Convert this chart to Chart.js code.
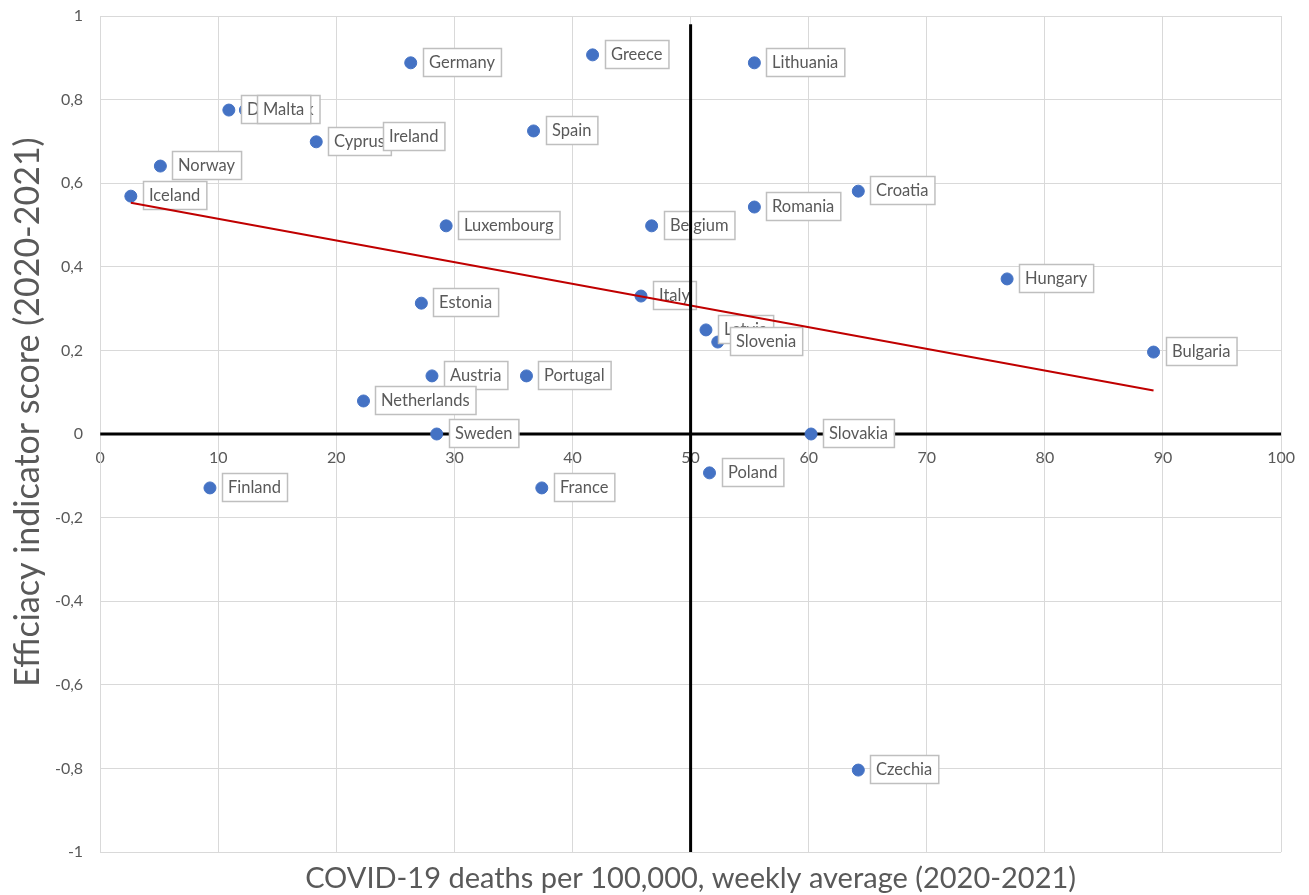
<!DOCTYPE html>
<html><head><meta charset="utf-8">
<script src="https://cdn.jsdelivr.net/npm/chart.js@4.4.0/dist/chart.umd.min.js"></script>
<style>html,body{margin:0;padding:0;background:#fff}#wrap{width:1309px;height:895px}</style>
</head><body><div id="wrap"><canvas id="c"></canvas></div>
<script>
const countries = ["Iceland","Norway","Denmark","Malta","Cyprus","Ireland","Germany","Greece","Lithuania","Spain","Croatia","Romania","Luxembourg","Belgium","Hungary","Italy","Estonia","Latvia","Slovenia","Bulgaria","Austria","Portugal","Netherlands","Sweden","Slovakia","Poland","Finland","France","Czechia"];
const deaths =   [2.6, 5.1, 10.9, 12.3, 18.3, 22.9, 26.3, 41.7, 55.4, 36.7, 64.2, 55.4, 29.3, 46.7, 76.8, 45.8, 27.2, 51.3, 52.3, 89.2, 28.1, 36.1, 22.3, 28.5, 60.2, 51.6, 9.3, 37.4, 64.2];
const efficacy = [0.569, 0.641, 0.775, 0.775, 0.699, 0.71, 0.888, 0.907, 0.888, 0.725, 0.581, 0.543, 0.498, 0.498, 0.371, 0.330, 0.313, 0.249, 0.220, 0.196, 0.139, 0.139, 0.079, 0.0, 0.0, -0.093, -0.129, -0.129, -0.804];
const trendX = [2.6, 89.2];
const trendY = [0.553, 0.104];
const vLineX = [50, 50];
const vLineY = [-1, 0.98];
const hLineX = [0, 100];
const hLineY = [0, 0];
const xTicks = [0,10,20,30,40,50,60,70,80,90,100];
const yTicks = [-1,-0.8,-0.6,-0.4,-0.2,0,0.2,0.4,0.6,0.8,1];
const xTitle = "COVID-19 deaths per 100,000, weekly average (2020-2021)";
const yTitle = "Efficiacy indicator score (2020-2021)";

const FONT = "Lato, 'Open Sans', sans-serif";
const GREY = "#595959";

const pts = countries.map((c,i)=>({x:deaths[i], y:efficacy[i]}));
const pairs = (xs,ys)=>xs.map((x,i)=>({x, y:ys[i]}));

const labelPlugin = {
  id:'boxLabels',
  afterDatasetDraw(chart, args){
    if (args.index !== 0) return;
    const ctx = chart.ctx;
    const meta = chart.getDatasetMeta(0);
    ctx.save();
    ctx.font = "16.5px " + FONT;
    ctx.textBaseline = 'middle';
    meta.data.forEach((el,i)=>{
      const t = countries[i];
      const w = ctx.measureText(t).width + 12;
      const h = 28;
      const bx = Math.round(el.x + 12), by = Math.round(el.y - h/2 - 1);
      ctx.fillStyle = '#fff';
      ctx.fillRect(bx, by, w, h);
      ctx.strokeStyle = '#bfbfbf';
      ctx.lineWidth = 1.5;
      ctx.strokeRect(bx+0.5, by+0.5, w, h);
      ctx.fillStyle = GREY;
      ctx.fillText(t, bx+6, by + h/2 + 1);
    });
    ctx.restore();
  }
};

const titlesPlugin = {
  id:'axisTitles',
  afterDraw(chart){
    const ctx = chart.ctx, a = chart.chartArea;
    ctx.save();
    ctx.fillStyle = GREY;
    ctx.textAlign = 'center';
    ctx.textBaseline = 'middle';
    ctx.font = "29px " + FONT;
    ctx.fillText(xTitle, (a.left + a.right)/2, 879);
    ctx.translate(28, 412);
    ctx.rotate(-Math.PI/2);
    ctx.font = "34px " + FONT;
    ctx.fillText(yTitle, 0, 0);
    ctx.restore();
  }
};

new Chart(document.getElementById('c'), {
  type:'scatter',
  data:{ datasets:[
    {data:pts, backgroundColor:'#4472C4', borderColor:'#4472C4', pointRadius:6, pointHoverRadius:6, order:10},
    {type:'line', data:pairs(trendX,trendY), borderColor:'#C00000', borderWidth:2, pointRadius:0, showLine:true, fill:false, order:3},
    {type:'line', data:pairs(vLineX,vLineY), borderColor:'#000', borderWidth:3, pointRadius:0, showLine:true, fill:false, order:2},
    {type:'line', data:pairs(hLineX,hLineY), borderColor:'#000', borderWidth:3, pointRadius:0, showLine:true, fill:false, order:20}
  ]},
  options:{
    responsive:true, maintainAspectRatio:false, animation:false,
    layout:{padding:{top:16, right:27, left:38, bottom:43}},
    plugins:{ legend:{display:false}, tooltip:{enabled:false} },
    scales:{
      x:{type:'linear', min:0, max:100, position:{y:0},
        afterBuildTicks:s=>{s.ticks = xTicks.map(v=>({value:v}));},
        afterFit:s=>{s.paddingTop = 0; s.paddingBottom = 0;},
        grid:{color:'#d9d9d9', lineWidth:1, drawTicks:false},
        border:{display:false},
        ticks:{color:GREY, font:{family:FONT, size:16}, padding:14, maxRotation:0}
      },
      y:{type:'linear', min:-1, max:1,
        afterBuildTicks:s=>{s.ticks = yTicks.map(v=>({value:v}));},
        afterFit:s=>{s.paddingTop = 0; s.paddingBottom = 0;},
        grid:{color:'#d9d9d9', lineWidth:1, drawTicks:false},
        border:{color:'#d9d9d9'},
        ticks:{color:GREY, font:{family:FONT, size:16}, padding:17,
          callback:v=>String(Math.round(v*10)/10).replace('.',',')}
      }
    }
  },
  plugins:[labelPlugin, titlesPlugin]
});
</script></body></html>
